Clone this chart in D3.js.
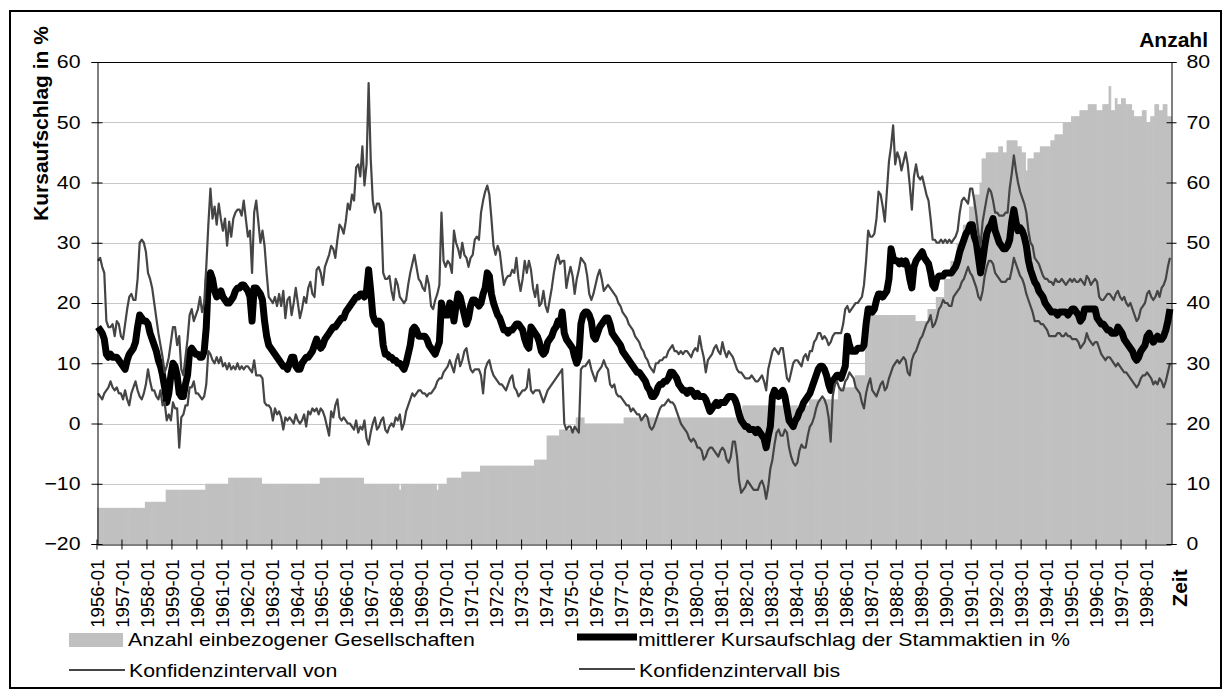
<!DOCTYPE html>
<html>
<head>
<meta charset="utf-8">
<script src="https://cdn.jsdelivr.net/npm/d3@7"></script>
<style>
  body { margin: 0; background: #fff; }
  svg { display: block; font-family: "Liberation Sans", Arial, sans-serif; }
</style>
</head>
<body>
<svg id="chart" width="1223" height="691"></svg>
<script>
// Monatskategorien 1956-01 .. 1998-12
const firstYear = 1956, lastYear = 1998;
const months = [];
for (let y = firstYear; y <= lastYear; y++)
  for (let m = 1; m <= 12; m++) months.push(`${y}-${String(m).padStart(2, "0")}`);

const leftTicks = [-20, -10, 0, 10, 20, 30, 40, 50, 60];
const rightTicks = [0, 10, 20, 30, 40, 50, 60, 70, 80];

// Anzahl einbezogener Gesellschaften (eine Zeile je Jahr)
const counts = [
  6,6,6,6,6,6,6,6,6,6,6,6,
  6,6,6,6,6,6,6,6,6,6,6,7,
  7,7,7,7,7,7,7,7,7,9,9,9,
  9,9,9,9,9,9,9,9,9,9,9,9,
  9,9,9,9,10,10,10,10,10,10,10,10,
  10,10,10,11,11,11,11,11,11,11,11,11,
  11,11,11,11,11,11,11,10,10,10,10,10,
  10,10,10,10,10,10,10,10,10,10,10,10,
  10,10,10,10,10,10,10,10,10,10,10,11,
  11,11,11,11,11,11,11,11,11,11,11,11,
  11,11,11,11,11,11,11,11,10,10,10,10,
  10,10,10,10,10,10,10,10,10,10,10,10,
  10,9,10,10,10,10,10,10,10,10,10,10,
  10,10,10,10,10,10,10,9,10,10,10,10,
  11,11,11,11,11,11,11,12,12,12,12,12,
  12,12,12,12,13,13,13,13,13,13,13,13,
  13,13,13,13,13,13,13,13,13,13,13,13,
  13,13,13,13,13,13,14,14,14,14,14,14,
  18,18,18,18,18,18,19,19,19,19,19,19,
  19,19,21,21,21,21,20,20,20,20,20,20,
  20,20,20,20,20,20,20,20,20,20,20,20,
  20,21,21,21,21,21,21,21,21,21,21,21,
  21,21,21,21,21,21,21,21,21,21,21,21,
  21,21,21,21,21,21,21,21,21,21,21,21,
  21,21,21,21,21,21,21,21,21,21,21,21,
  21,21,21,21,21,21,21,21,21,21,23,23,
  23,23,23,23,23,23,23,23,23,23,23,23,
  23,23,23,23,23,23,23,23,23,23,23,23,
  23,23,23,23,23,23,24,24,24,24,24,24,
  24,24,24,24,24,24,24,24,26,26,26,26,
  26,26,26,26,28,28,28,28,28,38,38,38,
  38,38,38,38,38,38,38,38,38,38,38,38,
  38,38,38,38,38,38,38,38,38,37,37,37,
  37,37,37,39,39,39,39,41,41,41,41,44,
  44,44,47,47,47,50,50,50,53,53,53,56,
  56,58,58,58,60,64,64,65,65,65,65,65,
  65,66,66,65,65,67,67,67,67,67,66,66,
  65,65,62,64,64,64,65,65,65,66,66,66,
  66,66,67,67,68,68,68,68,70,70,70,70,
  71,71,71,71,72,72,72,72,73,73,73,73,
  72,72,72,73,73,73,76,72,72,74,73,73,
  74,74,73,73,73,72,71,71,71,71,72,72,
  70,70,71,71,73,73,72,72,73,73,71,71
];

// mittlerer Kursaufschlag der Stammaktien in %
const meanPremium = [
  16,15.5,15,14,11.5,11,11.5,11,11,11,10.5,10,
  9.5,9,10.5,11.5,12,12.5,13.5,16,18,17.5,17,17,
  16.5,15,14,13,12,10.5,9.5,8,6,3.5,5,8,
  10,9.5,8,5,4.5,4.5,6.5,8,12,12.5,12,11.5,
  11.5,11,11,12,16,24,25,24,22,21,21.5,22,
  21,20.5,20,20,20.5,21,22,22.5,22.5,23,23,22.5,
  22,21,17,22.5,22.5,22,21.5,20.5,17,14.5,13,12.5,
  12,11.5,11,10.5,10,9.5,9.5,9,10,11,11,9.5,
  9,9,10,10.5,11,11,11.5,12,13,14,13,12.5,
  13,14,14.5,15,15.5,16,16,16.5,17,17.5,17.5,18.5,
  19,19.5,20,20.5,21,21,21.5,21.5,21,22,25.5,22,
  18,17,16.5,17,16.5,13,11.5,11.5,11,11,10.5,10.5,
  10,10,9.5,9,10,11.5,13,15.5,16,15.5,14.5,14.5,
  14.5,14.5,14,13,12.5,12,11.5,12.5,13.5,20,18.5,18,
  18,20,19.5,17,19.5,21.5,21,19.5,18,16.5,17.5,19.5,
  20.5,20.5,20,19.5,20,21.5,22.5,25,24.5,21.5,20,19,
  18,17.5,16.5,15.5,15.5,15,15.5,15.5,16,16.5,16.5,16,
  15.5,14,13,12.5,16,15.5,15,14.5,13.5,12,11.5,12,
  13.5,14,14.5,15.5,16,17,16.5,18.5,15,14,13.5,13,
  12.5,11,10,11,16.5,18,18.5,18.5,18,17,14.5,14,
  15,16,16.5,17,17.5,17.5,16.5,15,14.5,14,13.5,13,
  12,11.5,11,10.5,10,9.5,9,8.5,8.5,8,7.5,7,
  6,5.5,4.5,4.5,5,6,6.5,6.5,7,7,7.5,8.5,
  8.5,8,7.5,6.5,6,5.5,5.5,5,5.5,5.5,5,4.5,
  5,4.5,4.5,4.5,4,3,2,2.5,3,3.5,3,3.5,
  3.5,3.5,4,4.5,4.5,4.5,4,3,1.5,0.5,0,-0.5,
  -0.5,-1,-1,-1,-1.5,-1,-1.5,-2,-2.5,-4,-2,-0.5,
  4.5,5.5,5,4.5,5,5.5,4.5,2.5,0.5,0,-0.5,0.5,
  1,2,2.5,3.5,4,4.5,5,6,7,8,9,9.5,
  9.5,9,8,6.5,5.5,7,7.5,8,8,7.5,8.5,9.5,
  14.5,13,12,12,12,12.5,12.5,12.5,13,16.5,19,19,
  18.5,19,20.5,21.5,21.5,21,21.5,22,24,29,27.5,27,
  27,26.5,27,26.5,27,26,24,22.5,26,27,27.5,28,
  28.5,27.5,27,26.5,25,23,22.5,24,24.5,24.5,24.5,25,
  25,25,25,25.5,26,27,28.5,29.5,30.5,31.5,32,33,
  33,31,30,27.5,25,27,29.5,31.5,32.5,33,34,32,
  31,30,29.5,29,29,29.5,30.5,33.5,35.5,33.5,32,32.5,
  32,31,29.5,27,25.5,24.5,23.5,23,22,21.5,21,20,
  19.5,19,18.5,18.5,18.5,18,18.5,18.5,18.5,18.5,18,18.5,
  19,19,18.5,18,17,17.5,19,19,19,19,19,19,
  17.5,17,16.5,16.5,16,15.5,15.5,15,15,15,16,15.5,
  15,14,13.5,13,12.5,12,11,10.5,11,12,12.5,13,
  14.5,15,14,13.5,14,14.5,14,14,14.5,15.5,17,19
];

// Konfidenzintervall bis
const ciUpper = [
  27,27.5,26,25,17,16,16,16.5,14.5,17,16.5,14.5,
  14,16.5,19,21,21.5,20.5,20.5,24,30,30.5,30,28.5,
  25,24,22.5,20,17.5,15,13,11,8.5,9.5,11,13.5,
  16,16,13,14.5,9,8,11,14,18,19,17,18,
  19,21,18.5,20,26,33,39,34,36,33,36.5,34,
  32,34,29.5,33.5,31,34,35,35.5,35.5,34.5,37,34,
  31,32,25,35,37,33.5,30,32,29.5,25,21,20.5,
  20,21,19.5,21.5,19.5,22,17.5,20.5,21,18,20,22.5,
  20,17.5,19,21,20,22.5,23.5,21.5,21,25.5,26,25,
  23,26,27,28,29.5,29,27.5,30.5,33,32.5,31.5,33.5,
  36.5,35.5,38,37,42.5,43,41,46,39.5,43,56.5,44,
  37,35,36.5,36.5,35,25,24,24,24.5,22,20.5,24,
  23,21,20.5,20,20.5,23,25,26.5,28,26,24,23.5,
  22.5,22,24.5,23,19.5,19,20.5,21.5,23,35,27,26,
  27,26.5,25,32,30,29,27.5,30,28,27.5,26,27.5,
  28,30.5,31,30.5,35,37,38.5,39.5,38,34,29.5,28,
  29.5,28.5,25.5,23,24,24.5,24.5,25.5,25,27.5,24,22,
  24,27,25,27,25.5,22.5,21,23,19.5,20,22,19.5,
  18.5,20.5,22.5,25,27,28,26.5,27,27,22.5,24.5,26,
  24.5,21.5,24,25.5,27.5,27,26.5,24.5,21.5,20.5,21.5,23,
  24.5,25.5,24,22,22.5,23,22.5,22,21.5,21,20,19.5,
  18.5,18,17.5,16.5,16,15.5,14.5,14,13.5,12.5,12,11,
  10.5,9.5,9,8.5,10,10,10.5,10.5,11,11,12,12.5,
  13,12,12,11.5,12,11.5,12,12,11.5,11,12,12.5,
  12,14.5,12.5,11,8.5,10.5,11,11.5,12.5,13,12,11.5,
  13.5,12,11,12,11.5,11,10,9,8.5,8.5,8,7.5,
  7.5,7.5,8,7.5,7,7,7.5,8,7,5.5,9,10.5,
  12,12.5,12,11.5,12.5,12.5,10,7.5,7,8.5,10,10.5,
  10.5,10,9.5,11,11.5,10.5,12,12,13.5,14,15,15,
  14,14.5,14,13,13.5,14.5,15,15,15,15,16.5,19,
  19.5,18.5,19,19.5,20,20,20.5,21,23,27,32,31,
  31,31.5,34,38.5,38,36,33.5,38.5,43.5,46,49.5,43,
  45,44,42,43.5,45,43,39.5,35.5,41,43,41,40.5,
  41,39.5,38,37,34,30.5,30.5,30,30,30.5,30,30.5,
  30,30.5,30,30.5,31,32,35,37,37.5,37,36.5,39,
  39,37,34.5,31.5,29.5,33.5,35.5,37.5,39,38.5,37,35,
  35,34.5,34.5,34.5,35,35,39,41.5,44.5,42,40,38.5,
  37.5,36.5,35,32,30,29.5,27.5,27,26.5,25.5,24.5,24,
  24,23.5,23.5,23,24,23.5,23.5,24,23.5,23,23.5,24,
  23.5,24,23.5,23.5,24,23.5,23,24.5,24,23,23.5,24,
  23.5,21,20.5,20.5,21,21.5,21.5,21,20.5,21.5,22,21,
  20.5,21,20,19.5,20,19,18,17,17.5,19,19.5,20,
  21.5,22,21,20.5,21,22,21,22.5,23,24,26,27.5
];

// Konfidenzintervall von
const ciLower = [
  5,4.5,4,5,5.5,6,7,6,5.5,6,5,5,
  4,5.5,4,3,5,6,7,5.5,4.5,4,5,6.5,
  9,7,5.5,5.5,4.5,4,5.5,3,3.5,0.5,1.5,0.5,
  3.5,2.5,2.5,-4,1,1.5,3,3,6,6,7,5,
  5,4.5,4,4.5,6.5,12,11.5,10.5,10,11,10,11,
  9.5,10,9,10,9,9.5,9,10,9,9.5,9,9.5,
  9.5,9,8.5,10.5,8,8,8,7.5,3.5,3,3,2.5,
  0.5,2.5,1.5,2,1,-1,1,0.5,1,0.5,0,1.5,
  0.5,0,0.5,1.5,-0.5,2,1.5,2.5,2,2.5,1.5,2.5,
  2,1,-0.5,-2,2,1,3,4,1,0.5,1,0.5,
  0,0,-0.5,-1,0.5,-1.5,-0.5,-1,0.5,-2.5,-3.5,-1.5,
  0,1,-1,-0.5,0.5,1,-1,-1.5,-0.5,0,-0.5,1,
  0.5,1.5,-1,0,2,3,4,5,4.5,5,5.5,5.5,
  5,5,4.5,5,5,5.5,6,7,7.5,7.5,8.5,9,
  9.5,10.5,9.5,8.5,10.5,11.5,9.5,10.5,12,12.5,10.5,9,
  8.5,9,9,9,8,5,9,10,10.5,9,8,7.5,
  7,6.5,6.5,6,5.5,6.5,7.5,8,6,5.5,4.5,5,
  5.5,5.5,6,9,5.5,5,5.5,5.5,5.5,4.5,3.5,4.5,
  5.5,6,6.5,7,7.5,8,8.5,9,0,-1,-0.5,-0.5,
  -1.5,-0.5,-1,-1.5,9,9.5,9.5,10,10.5,9,8,7,
  8.5,9,9.5,10.5,9.5,9,6.5,6,6.5,5,4.5,4.5,
  4,3.5,3,3,2,2.5,2,1.5,1.5,0.5,1,1.5,
  1,-0.5,-1,-0.5,0.5,1.5,2.5,3,3,3.5,4,3.5,
  3.5,3,2,1,0,-0.5,-1,-1.5,-2.5,-3,-2.5,-3,
  -4,-4,-4.5,-6,-5.5,-4.5,-4,-4,-4.5,-5,-5.5,-4.5,
  -4,-4.5,-6,-6.5,-5.5,-3,-3,-5.5,-9.5,-11.5,-11,-10.5,
  -9.5,-10,-10.5,-11,-11,-11,-10,-9.5,-10.5,-12.5,-10.5,-7.5,
  -6,-3.5,-1.5,-1,-2,-2,-1,-1.5,-4,-5.5,-6.5,-7,
  -6.5,-4.5,-3.5,-4,-4,-2,-0.5,0,1,2.5,3.5,4,
  4.5,4,3,1,-3,4.5,6.5,7,6,5.5,5.5,7,
  7.5,8.5,8,7.5,6,5.5,5,3.5,2.5,5,6.5,7.5,
  5.5,5,4.5,5.5,6.5,7,5.5,6,7.5,8.5,9.5,10,
  10.5,10,10.5,11,10.5,8.5,8,10.5,11.5,12,13,14,
  14.5,15.5,16.5,17,18,16,16.5,17.5,19,19.5,20.5,20,
  20,19.5,19.5,21,21.5,22,22.5,23.5,24,25,26,25,
  24.5,23.5,22.5,21,20.5,22,24.5,26,27,27,26.5,25,
  24.5,24,23.5,23.5,23.5,24,24,25.5,27.5,26.5,25.5,24.5,
  24,23,21.5,20.5,19.5,18.5,17,17,17,16.5,16.5,16,
  15.5,14.5,14.5,14.5,14.5,15,15,14.5,14.5,15,14.5,14.5,
  14,14,14,13.5,12.5,13,13.5,15,14,13.5,13,13.5,
  13.5,12.5,11.5,11,10.5,11,11,10.5,10,9.5,10,9.5,
  9,8.5,8.5,8,7.5,7,6.5,6,6.5,7.5,8,8,
  8.5,8,7.5,6.5,7,6.5,7.5,7,6,7,8.5,10
];

const legendItems = [
  { label: "Anzahl einbezogener Gesellschaften", kind: "bar", x: 69, y: 640 },
  { label: "mittlerer Kursaufschlag der Stammaktien in %", kind: "mean", x: 577, y: 637 },
  { label: "Konfidenzintervall von", kind: "ci", x: 69, y: 670 },
  { label: "Konfidenzintervall bis", kind: "ci", x: 579, y: 669 }
];

const svg = d3.select("#chart");
const margin = { left: 97, right: 1171, top: 62, bottom: 544 };
const textStretch = 1.145; // die waagrechte Schrift im Original ist breiter gezogen

// horizontale Texte etwas breiter ziehen
function widen(sel) {
  sel.each(function () {
    const w = this.getComputedTextLength();
    this.setAttribute("textLength", (w * textStretch).toFixed(1));
    this.setAttribute("lengthAdjust", "spacingAndGlyphs");
  });
}

// äußerer Rahmen
svg.append("rect")
  .attr("x", 10).attr("y", 11)
  .attr("width", 1211).attr("height", 677)
  .attr("fill", "#fff")
  .attr("stroke", "#000")
  .attr("stroke-width", 2);

const x = d3.scaleBand().domain(months).range([margin.left, margin.right]).padding(0);
const bw = x.bandwidth();
const yL = d3.scaleLinear().domain([-20, 60]).range([margin.bottom, margin.top]);
const yR = d3.scaleLinear().domain([0, 80]).range([margin.bottom, margin.top]);

// Gitternetz
svg.append("g")
  .selectAll("line")
  .data(leftTicks.filter(d => d > -20 && d < 60))
  .join("line")
  .attr("x1", margin.left).attr("x2", margin.right)
  .attr("y1", d => Math.round(yL(d)) + 0.5).attr("y2", d => Math.round(yL(d)) + 0.5)
  .attr("stroke", "#c8c8c8")
  .attr("stroke-width", 1);

// Säulen (Anzahl)
svg.append("g")
  .selectAll("rect")
  .data(months)
  .join("rect")
  .attr("x", d => x(d))
  .attr("y", (d, i) => yR(counts[i]))
  .attr("width", bw + 0.6)
  .attr("height", (d, i) => margin.bottom - yR(counts[i]))
  .attr("fill", "#c0c0c0");

// Linien
const line = d3.line()
  .x(d => x(d.m) + bw / 2)
  .y(d => yL(d.v));

const toPoints = arr => months.map((m, i) => ({ m, v: arr[i] }));

svg.append("path")
  .datum(toPoints(meanPremium))
  .attr("d", line)
  .attr("fill", "none")
  .attr("stroke", "#000")
  .attr("stroke-width", 7)
  .attr("stroke-linejoin", "round");

[ciLower, ciUpper].forEach(arr => {
  svg.append("path")
    .datum(toPoints(arr))
    .attr("d", line)
    .attr("fill", "none")
    .attr("stroke", "#454545")
    .attr("stroke-width", 2.2)
    .attr("stroke-linejoin", "round");
});

// oberer Rand der Zeichenfläche
svg.append("line")
  .attr("x1", margin.left).attr("x2", margin.right)
  .attr("y1", margin.top + 0.5).attr("y2", margin.top + 0.5)
  .attr("stroke", "#000");

// linke Achse
const gLeft = svg.append("g")
  .attr("transform", `translate(${margin.left + 0.5},0)`)
  .call(d3.axisLeft(yL).tickValues(leftTicks).tickSize(6).tickPadding(14));
gLeft.select(".domain").attr("stroke", "#000");
gLeft.selectAll(".tick line").attr("x1", 5).attr("stroke", "#000");
gLeft.selectAll(".tick text")
  .attr("font-size", 18.6)
  .attr("fill", "#000")
  .attr("x", -17)
  .call(widen);

// rechte Achse
const gRight = svg.append("g")
  .attr("transform", `translate(${margin.right + 0.5},0)`)
  .call(d3.axisRight(yR).tickValues(rightTicks).tickSize(5));
gRight.select(".domain").attr("stroke", "#000");
gRight.selectAll(".tick line").attr("x1", -5).attr("stroke", "#000");
gRight.selectAll(".tick text")
  .attr("font-size", 18.6)
  .attr("fill", "#000")
  .attr("x", 15)
  .call(widen);

// untere Achse
const gBottom = svg.append("g")
  .attr("transform", `translate(0,${margin.bottom + 0.5})`)
  .call(d3.axisBottom(x).tickValues(months.filter(m => m.endsWith("-01"))).tickSize(5).tickSizeOuter(0));
gBottom.select(".domain").attr("stroke", "#000");
gBottom.selectAll(".tick")
  .attr("transform", d => `translate(${x(d)},0)`);
gBottom.selectAll(".tick line").attr("y1", -5).attr("stroke", "#000");
gBottom.selectAll(".tick text")
  .attr("font-size", 18.6)
  .attr("fill", "#000")
  .attr("transform", "rotate(-90)")
  .attr("text-anchor", "end")
  .attr("x", -15)
  .attr("y", 0)
  .attr("dy", "0.36em");

// Achsentitel
svg.append("text")
  .attr("transform", "translate(48,123.5) rotate(-90)")
  .attr("text-anchor", "middle")
  .attr("font-size", 21)
  .attr("font-weight", "bold")
  .text("Kursaufschlag in %");

svg.append("text")
  .attr("x", 1208).attr("y", 47)
  .attr("text-anchor", "end")
  .attr("font-size", 21)
  .attr("font-weight", "bold")
  .text("Anzahl");

svg.append("text")
  .attr("transform", "translate(1187,588) rotate(-90)")
  .attr("text-anchor", "middle")
  .attr("font-size", 21)
  .attr("font-weight", "bold")
  .text("Zeit");

// Legende
const legend = svg.append("g");
legendItems.forEach(item => {
  if (item.kind === "bar") {
    legend.append("rect")
      .attr("x", item.x).attr("y", item.y - 7)
      .attr("width", 54).attr("height", 14)
      .attr("fill", "#c0c0c0");
  } else {
    legend.append("line")
      .attr("x1", item.x).attr("x2", item.x + (item.kind === "mean" ? 60 : 56))
      .attr("y1", item.y).attr("y2", item.y)
      .attr("stroke", item.kind === "mean" ? "#000" : "#454545")
      .attr("stroke-width", item.kind === "mean" ? 7 : 2.2);
  }
  legend.append("text")
    .attr("x", item.kind === "mean" ? item.x + 61 : item.x + (item.kind === "bar" ? 59 : 60))
    .attr("y", item.kind === "bar" || item.kind === "mean" ? 646 : 677)
    .attr("font-size", 18.6)
    .text(item.label)
    .call(widen);
});
</script>
</body>
</html>
